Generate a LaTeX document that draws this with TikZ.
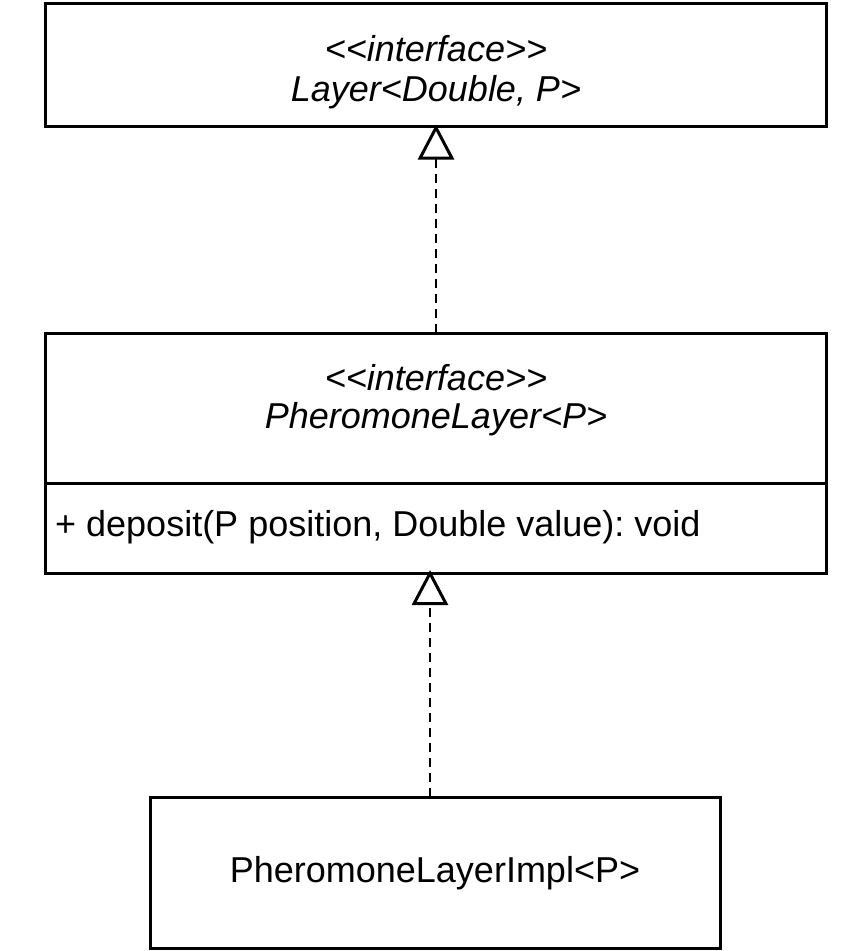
\documentclass[tikz,border=0pt]{standalone}
\usepackage{fontspec}
\setmainfont{Liberation Sans}
\usetikzlibrary{arrows.meta}
\frenchspacing
\begin{document}
\begin{tikzpicture}[x=1pt,y=-1pt,
  umlbox/.style={draw=black,line width=3pt,fill=white},
  txt/.style={inner sep=0pt,font=\fontsize{36}{42}\selectfont},
  itxt/.style={txt,font=\fontsize{36}{42}\selectfont\itshape},
  realize/.style={draw=black,line width=2.5pt,dash pattern=on 9pt off 6pt,
    -{Triangle[open,length=35pt,width=36pt,line width=3pt]}}]
\useasboundingbox (0,0) rectangle (863,951);
% top box
\draw[umlbox] (45,3) rectangle (826,126);
\coordinate (topS) at (436,126);
\node[itxt] (t1) at (436,49) {<{}<interface>{}>};
\node[itxt] (t2) at (436,92) {Layer<Double, P>};
% middle box
\draw[umlbox] (45,333) rectangle (826,573);
\draw[line width=3pt] (45,483) -- (826,483);
\coordinate (midN) at (436,333);
\coordinate (midS) at (430,573);
\node[itxt] (m1) at (436,378) {<{}<interface>{}>};
\node[itxt] (m2) at (436,419) {PheromoneLayer<P>};
\node[txt,anchor=west] (m3) at (55,527) {+ deposit(P position, Double value): void};
% bottom box
\draw[umlbox] (150,797) rectangle (720,948);
\coordinate (botN) at (430,797);
\node[txt] (b1) at (435,873) {PheromoneLayerImpl<P>};
% connectors
\draw[realize] (midN) -- ([yshift=1.5pt]topS);
\draw[realize] (botN) -- ([yshift=3pt]midS);
\end{tikzpicture}
\end{document}
